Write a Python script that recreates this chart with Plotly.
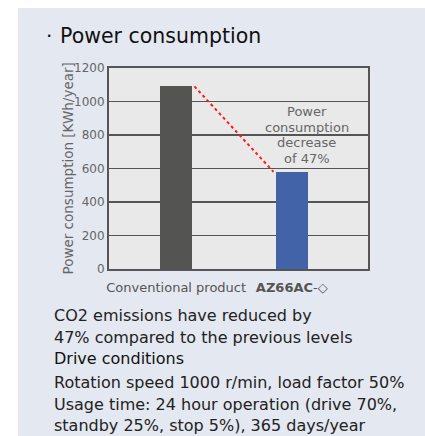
import plotly.graph_objects as go

# ---- data ----
categories = ["Conventional product", "AZ66AC-◇"]
tick_labels = ["Conventional product", "<b>AZ66AC</b>-◇"]
power_kwh = [1090, 580]
bar_colors = ["#545452", "#4263a8"]
y_ticks = [0, 200, 400, 600, 800, 1000, 1200]
note_lines = ["Power", "consumption", "decrease", "of 47%"]
title_text = "Power consumption"
y_title = "Power consumption [KWh/year]"
body_lines = [
    ("CO2 emissions have reduced by", "#222222"),
    ("47% compared to the previous levels", "#222222"),
    ("Drive conditions", "#111111"),
    ("Rotation speed 1000 r/min, load factor 50%", "#222222"),
    ("Usage time: 24 hour operation (drive 70%,", "#222222"),
    ("standby 25%, stop 5%), 365 days/year", "#222222"),
]

FONT = "DejaVu Sans"
W_FIG, H_FIG = 425, 436
# plot area in page pixels
L, R, T, B = 109, 368, 68, 269
PW, PH = R - L, B - T


def xp(px):
    return (px - L) / PW


def yp(py):
    return (B - py) / PH


bar_w = 0.276
x_idx = list(range(len(categories)))

fig = go.Figure()
fig.add_trace(go.Bar(
    x=x_idx, y=power_kwh, width=bar_w,
    marker=dict(color=bar_colors, line=dict(width=0)),
    showlegend=False, hoverinfo="skip",
))
fig.add_trace(go.Scatter(
    x=[x_idx[0] + bar_w / 2 + 0.02, x_idx[1] - bar_w / 2 - 0.02],
    y=[power_kwh[0], power_kwh[1]],
    mode="lines", line=dict(color="#ff1a1a", width=2, dash="dot"),
    showlegend=False, hoverinfo="skip",
))

annotations = []
note_cx = 1.128
note_cy_px = 135
spacing = 15.4
for i, line in enumerate(note_lines):
    py = note_cy_px + (i - (len(note_lines) - 1) / 2) * spacing
    annotations.append(dict(
        x=note_cx, xref="x", y=yp(py), yref="paper", text=line,
        showarrow=False, xanchor="center", yanchor="middle",
        font=dict(family=FONT, size=13, color="#666666"),
    ))

annotations.append(dict(x=xp(49), y=yp(36), xref="paper", yref="paper", text="·",
                        showarrow=False, xanchor="center", yanchor="middle",
                        font=dict(family=FONT, size=20, color="#111111")))
annotations.append(dict(x=xp(58), y=yp(36), xref="paper", yref="paper", text=title_text,
                        showarrow=False, xanchor="left", yanchor="middle",
                        font=dict(family=FONT, size=20.5, color="#111111")))
annotations.append(dict(x=xp(67), y=yp((T + B) / 2), xref="paper", yref="paper",
                        text=y_title, textangle=-90, showarrow=False,
                        xanchor="center", yanchor="middle",
                        font=dict(family=FONT, size=13.5, color="#666666")))
body_y = [315, 337, 358, 382, 404, 425]
for (txt, col), py in zip(body_lines, body_y):
    annotations.append(dict(x=xp(52), y=yp(py), xref="paper", yref="paper", text=txt,
                            showarrow=False, xanchor="left", yanchor="middle",
                            font=dict(family=FONT, size=16, color=col)))

shapes = [
    dict(type="rect", xref="paper", yref="paper", x0=xp(-5), x1=xp(18), y0=yp(-5), y1=yp(441),
         fillcolor="white", line=dict(width=0), layer="below"),
    dict(type="rect", xref="paper", yref="paper", x0=xp(-5), x1=xp(430), y0=yp(-5), y1=yp(8),
         fillcolor="white", line=dict(width=0), layer="below"),
]

fig.update_layout(
    width=W_FIG, height=H_FIG,
    margin=dict(l=L, r=W_FIG - R, t=T, b=H_FIG - B, pad=0),
    paper_bgcolor="#e4e8f0", plot_bgcolor="#e9e9e9",
    font=dict(family=FONT, color="#666666"),
    bargap=0,
    xaxis=dict(
        range=[-0.581, 1.659], tickvals=x_idx, ticktext=tick_labels,
        showgrid=False, zeroline=False, showline=True, mirror=True,
        linecolor="#555555", linewidth=2, ticks="", ticklabelstandoff=5,
        tickfont=dict(family=FONT, size=13, color="#555555"),
        fixedrange=True,
    ),
    yaxis=dict(
        range=[0, 1200], tickvals=y_ticks,
        showgrid=True, gridcolor="#555555", gridwidth=1.5,
        zeroline=False, showline=True, mirror=True,
        linecolor="#555555", linewidth=2, ticks="",
        tickfont=dict(family=FONT, size=12, color="#666666"),
        fixedrange=True,
    ),
    annotations=annotations,
    shapes=shapes,
)

fig.write_html(
    "out.html",
    config={"displayModeBar": False, "staticPlot": True},
    post_script="document.body.style.margin='0';document.body.style.overflow='hidden';",
)
